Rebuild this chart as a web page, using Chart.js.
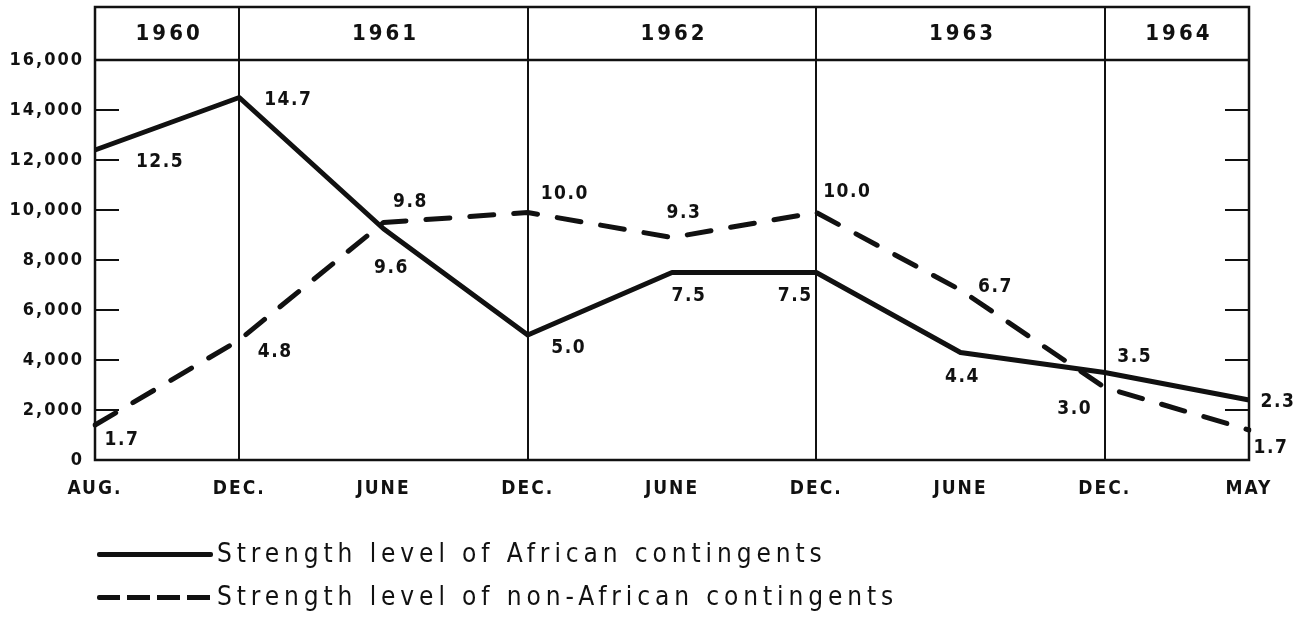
<!DOCTYPE html>
<html><head><meta charset="utf-8">
<script src="https://cdn.jsdelivr.net/npm/chart.js@4.4.1/dist/chart.umd.min.js"></script>
<style>
body{margin:0;background:#fff}
#wrap{position:relative;width:1310px;height:622px}
.lg{position:absolute;left:97px;font:26px "DejaVu Sans Condensed","DejaVu Sans",sans-serif;letter-spacing:4.9px;color:#111;white-space:nowrap;line-height:30px}
.lg i{display:inline-block;width:116px;height:5px;vertical-align:middle;margin-right:4px;background:#111;border-radius:2px}
.lg i.d{background:repeating-linear-gradient(to right,#111 0 23px,transparent 23px 30px)}
</style></head><body>
<div id="wrap"><canvas id="c"></canvas>
<div class="lg" style="top:538px"><i></i>Strength level of African contingents</div>
<div class="lg" style="top:581px"><i class="d"></i>Strength level of non-African contingents</div>
</div>
<script>
var meses=['AUG.','DEC.','JUNE','DEC.','JUNE','DEC.','JUNE','DEC.','MAY'];
var years=['1960','1961','1962','1963','1964'];
var yearEnds=[1,3,5,7]; // the DEC. ticks that close each year
var african=[12400,14500,9250,5000,7500,7500,4300,3500,2400];
var nonAfrican=[1400,4800,9500,9900,8900,9900,6800,2900,1200];
var africanTxt=['12.5','14.7','9.6','5.0','7.5','7.5','4.4','3.5','2.3'];
var nonAfricanTxt=['1.7','4.8','9.8','10.0','9.3','10.0','6.7','3.0','1.7'];
var yTicks=[0,2000,4000,6000,8000,10000,12000,14000,16000];
var yTop=16000;

// where the printed numbers sit next to each point
var afOff=[[65,12],[49,3],[8,39],[41,13],[17,24],[-21,24],[2,25],[30,-15],[29,2]];
var naOff=[[27,15],[36,12],[27,-20],[37,-18],[12,-24],[31,-20],[35,-3],[-30,22],[22,18]];

var FF='"DejaVu Sans Condensed","Liberation Sans Narrow","DejaVu Sans",sans-serif';
Chart.defaults.font.family=FF;
Chart.defaults.color='#111';

var frame={id:'frame',
    beforeDraw:function(c){c.ctx.letterSpacing='2px';},
    afterDraw:function(c){
        var ctx=c.ctx,a=c.chartArea,x=c.scales.x,y=c.scales.y;
        ctx.save();
        ctx.strokeStyle='#111';ctx.lineWidth=2.5;
        ctx.strokeRect(a.left,a.top,a.right-a.left,a.bottom-a.top);
        var yh=y.getPixelForValue(yTop);
        ctx.beginPath();ctx.moveTo(a.left,yh);ctx.lineTo(a.right,yh);ctx.stroke();
        // inward ticks both sides
        ctx.lineWidth=2;
        y.ticks.forEach(function(t){
            var p=y.getPixelForValue(t.value);
            ctx.beginPath();
            ctx.moveTo(a.left,p);ctx.lineTo(a.left+24,p);
            ctx.moveTo(a.right,p);ctx.lineTo(a.right-24,p);
            ctx.stroke();
        });
        // year header
        var b=[a.left];
        for(var i=0;i<yearEnds.length;i++)b.push(x.getPixelForValue(yearEnds[i]));
        b.push(a.right);
        ctx.fillStyle='#111';ctx.textAlign='center';ctx.textBaseline='middle';
        ctx.font='bold 22px '+FF;ctx.letterSpacing='3px';
        for(var j=0;j<years.length;j++)ctx.fillText(years[j],(b[j]+b[j+1])/2+2,(a.top+yh)/2+1);
        // point labels
        ctx.font='bold 19px '+FF;ctx.letterSpacing='1.5px';
        var sets=[[africanTxt,afOff],[nonAfricanTxt,naOff]];
        for(var s=0;s<2;s++){
            var pts=c.getDatasetMeta(s).data;
            for(var k=0;k<pts.length;k++){
                ctx.fillText(sets[s][0][k],pts[k].x+sets[s][1][k][0],pts[k].y+sets[s][1][k][1]);
            }
        }
        ctx.restore();
    }
};

new Chart(document.getElementById('c'),{
    type:'line',
    data:{labels:meses,datasets:[
        {label:'Strength level of African contingents',data:african,borderColor:'#111',borderWidth:5,pointRadius:0,tension:0,fill:false,borderJoinStyle:'round'},
        {label:'Strength level of non-African contingents',data:nonAfrican,borderColor:'#111',borderWidth:5,pointRadius:0,tension:0,fill:false,borderDash:[24,20],borderCapStyle:'round',borderJoinStyle:'round'}
    ]},
    options:{responsive:true,maintainAspectRatio:false,animation:false,
        layout:{padding:{left:0,right:61,top:7,bottom:0}},
        plugins:{legend:{display:false},tooltip:{enabled:false}},
        scales:{
            x:{offset:false,
                afterFit:function(s){s.height=162;s.paddingLeft=0;s.paddingRight=0;},
                border:{display:false},
                grid:{drawTicks:false,lineWidth:2,color:function(ctx){return yearEnds.indexOf(ctx.index)>=0?'#111':'rgba(0,0,0,0)';}},
                ticks:{padding:18,maxRotation:0,autoSkip:false,font:{size:19,weight:'bold'}}
            },
            y:{min:0,max:18120,
                afterBuildTicks:function(s){s.ticks=yTicks.map(function(v){return {value:v};});},
                afterFit:function(s){s.width=95;s.paddingTop=0;s.paddingBottom=0;},
                border:{display:false},
                grid:{display:false,drawTicks:false},
                ticks:{padding:11,font:{size:18,weight:'bold'},
                    callback:function(v){return v.toLocaleString('en-US');}}
            }
        }
    },
    plugins:[frame]
});
</script>
</body></html>
